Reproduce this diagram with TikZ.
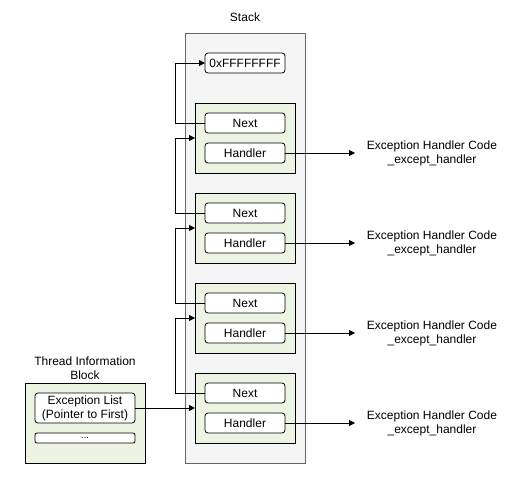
\documentclass[tikz,border=0pt]{standalone}
\usepackage{fontspec}
\setmainfont{Liberation Sans}
\usetikzlibrary{arrows.meta}
\definecolor{grayfill}{HTML}{F5F5F5}
\definecolor{graystroke}{HTML}{666666}
\definecolor{recfill}{HTML}{EEF4E2}
\tikzset{
  every node/.style={font=\fontsize{12}{14}\selectfont, inner sep=0pt, outer sep=0pt},
  stackbox/.style={draw=graystroke, fill=grayfill, line width=0.8pt},
  recbox/.style={draw=black, fill=recfill, line width=0.8pt},
  fieldbox/.style={draw=black, fill=white, rounded corners=3pt, line width=0.8pt},
  conn/.style={draw=black, line width=0.8pt, -{Triangle[length=6pt,width=6pt]}},
}
\begin{document}
\begin{tikzpicture}[x=1pt,y=-1pt]
\useasboundingbox (0,0) rectangle (515,490);
% stack
\node[stackbox, minimum width=120pt, minimum height=430pt, anchor=north west] (stack) at (185,33) {};
\node (stacklbl) at (245,17) {Stack};
\node[fieldbox, minimum width=80pt, minimum height=20pt] (ff) at (245,63) {0xFFFFFFFF};
% records
\foreach \i/\y in {1/103,2/193,3/283,4/373}{
  \node[recbox, minimum width=100pt, minimum height=70pt, anchor=north west] (rec\i) at (195,\y) {};
  \node[fieldbox, minimum width=80pt, minimum height=20pt] (next\i) at (245,\y+20) {Next};
  \node[fieldbox, minimum width=80pt, minimum height=20pt] (hand\i) at (245,\y+50) {Handler};
  \coordinate (h\i) at (355,\y+50);
  \node[align=center] (code\i) at (432,\y+50) {Exception Handler Code\\\_except\_handler};
  \draw[conn] (hand\i.east) -- (h\i);
}
% next links
\draw[conn] (next1.west) -- ++(-30,0) |- (ff.west);
\draw[conn] (next2.west) -- ++(-30,0) |- (rec1.west);
\draw[conn] (next3.west) -- ++(-30,0) |- (rec2.west);
\draw[conn] (next4.west) -- ++(-30,0) |- (rec3.west);
% TIB
\node[align=center] (tiblbl) at (85,368) {Thread Information\\Block};
\node[recbox, minimum width=120pt, minimum height=80pt, anchor=north west] (tib) at (25,383) {};
\node[fieldbox, minimum width=100pt, minimum height=30pt, align=center] (exl) at (85,408) {Exception List\\(Pointer to First)};
\node[fieldbox, rounded corners=2pt, minimum width=100pt, minimum height=10pt, font=\fontsize{9}{9}\selectfont] (dots) at (85,438) {...};
\draw[conn] (exl.east) -- (rec4.west);
\end{tikzpicture}
\end{document}
